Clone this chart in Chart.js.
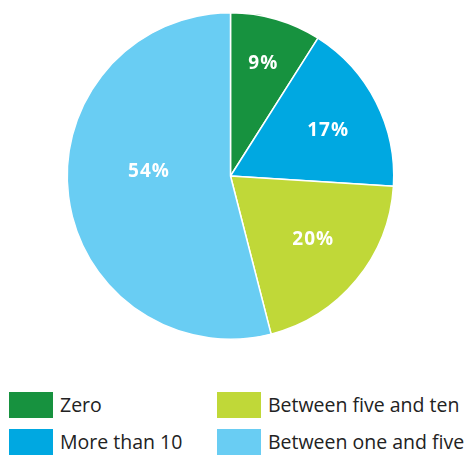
<!DOCTYPE html>
<html>
<head>
<meta charset="utf-8">
<script src="https://cdn.jsdelivr.net/npm/chart.js@4"></script>
<style>
  body { margin: 0; background: #fff; font-family: "Open Sans", "Noto Sans", sans-serif; }
  #wrap { position: relative; width: 473px; height: 455px; overflow: hidden; }
  #box { position: absolute; left: 0; top: 0; width: 473px; height: 345px; }
  .leg { position: absolute; display: flex; align-items: center; font-size: 19.5px; color: #222; white-space: nowrap; }
  .leg span.sw { display: inline-block; width: 44px; height: 26px; margin-right: 7px; }
</style>
</head>
<body>
<div id="wrap">
  <div id="box"><canvas id="pie"></canvas></div>
  <div id="legend"></div>
</div>
<script>
const categories = ['Zero', 'More than 10', 'Between five and ten', 'Between one and five'];
const shares = [9, 17, 20, 54];
const colors = ['#17923f', '#00a8e1', '#c0d838', '#69cdf3'];
// legend reads row by row: left column then right column
const legendOrder = [0, 2, 1, 3];

// label placement inside each slice
const labelRadius = [0.72, 0.66, 0.64, 0.5];
const labelShiftDeg = [0, 2, -2, 10];

const pctLabels = {
  id: 'pctLabels',
  afterDatasetsDraw(chart) {
    const ctx = chart.ctx;
    const meta = chart.getDatasetMeta(0);
    ctx.save();
    ctx.fillStyle = '#fff';
    ctx.font = 'bold 19px "Open Sans", "Noto Sans", sans-serif';
    ctx.letterSpacing = '1px';
    ctx.textAlign = 'center';
    ctx.textBaseline = 'middle';
    meta.data.forEach((arc, i) => {
      const p = arc.getProps(['x', 'y', 'startAngle', 'endAngle', 'outerRadius']);
      const a = (p.startAngle + p.endAngle) / 2 + labelShiftDeg[i] * Math.PI / 180;
      const r = p.outerRadius * labelRadius[i];
      ctx.fillText(shares[i] + '%', p.x + Math.cos(a) * r, p.y + Math.sin(a) * r);
    });
    ctx.restore();
  }
};

new Chart(document.getElementById('pie'), {
  type: 'pie',
  data: {
    labels: categories,
    datasets: [{
      data: shares,
      backgroundColor: colors,
      borderColor: '#fff',
      borderWidth: 1.5
    }]
  },
  options: {
    responsive: true,
    maintainAspectRatio: false,
    animation: false,
    layout: { padding: { top: 12, bottom: 5, left: 0, right: 12 } },
    plugins: {
      legend: { display: false },
      tooltip: { enabled: false }
    }
  },
  plugins: [pctLabels]
});

const legendEl = document.getElementById('legend');
legendOrder.forEach((idx, k) => {
  const col = k % 2, row = Math.floor(k / 2);
  const item = document.createElement('div');
  item.className = 'leg';
  item.style.left = (col ? 217 : 9) + 'px';
  item.style.top = (391 + row * 37) + 'px';
  item.innerHTML = '<span class="sw" style="background:' + colors[idx] + '"></span>' + categories[idx];
  legendEl.appendChild(item);
});
</script>
</body>
</html>
